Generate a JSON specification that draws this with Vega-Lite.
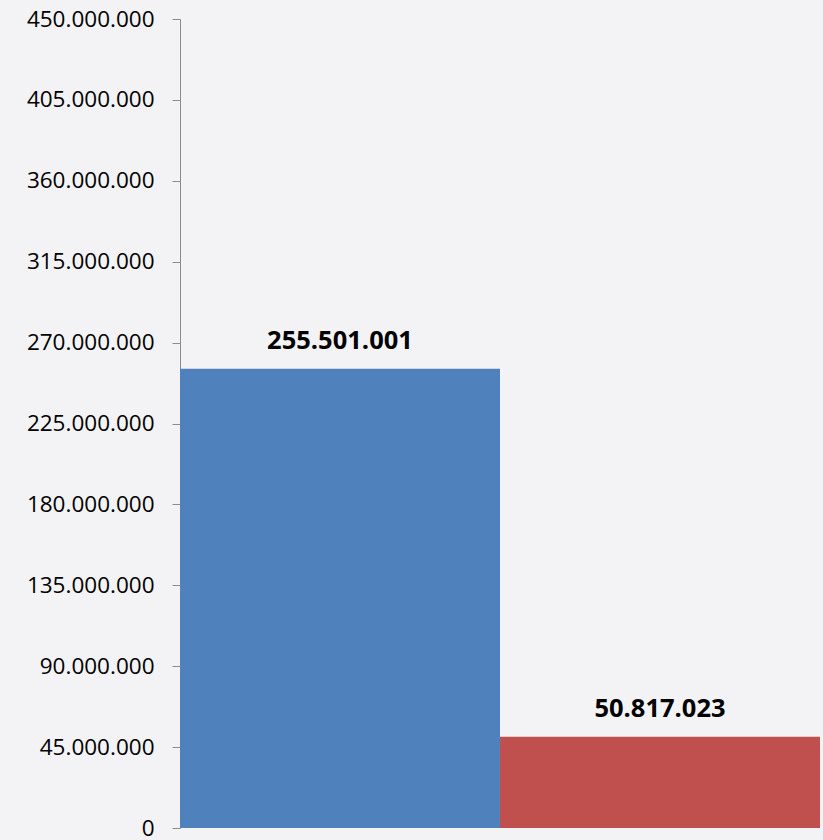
{
  "$schema": "https://vega.github.io/schema/vega-lite/v6.json",
  "autosize": "none",
  "width": 640,
  "height": 809,
  "padding": {"left": 180, "top": 19, "right": 3, "bottom": 12},
  "background": "#f3f3f5",
  "config": {
    "view": {"stroke": null},
    "locale": {"number": {"decimal": ",", "thousands": ".", "grouping": [3], "currency": ["", " €"]}}
  },
  "data": {"values": [
    {"category": "A", "value": 255501001},
    {"category": "B", "value": 50817023}
  ]},
  "encoding": {
    "x": {"field": "category", "type": "nominal", "axis": null, "scale": {"paddingInner": 0, "paddingOuter": 0}},
    "y": {"field": "value", "type": "quantitative", "scale": {"domain": [0, 450000000], "nice": false},
      "axis": {"values": [0, 45000000, 90000000, 135000000, 180000000, 225000000, 270000000, 315000000, 360000000, 405000000, 450000000],
        "format": ",d", "grid": false, "title": null, "domainColor": "#8c8c8c", "tickColor": "#8c8c8c", "tickSize": 8,
        "labelPadding": 18, "labelFont": "Open Sans", "labelFontSize": 22.5, "labelColor": "#000000", "labelOverlap": false}}
  },
  "layer": [
    {"mark": {"type": "bar"}, "encoding": {"color": {"field": "category", "type": "nominal", "legend": null, "scale": {"range": ["#4f81bd", "#c0504d"]}}}},
    {"mark": {"type": "text", "dy": -20, "baseline": "alphabetic", "font": "Open Sans", "fontWeight": "bold", "fontSize": 25.5, "color": "#000000"},
      "encoding": {"text": {"field": "value", "type": "quantitative", "format": ",d"}}}
  ]
}
